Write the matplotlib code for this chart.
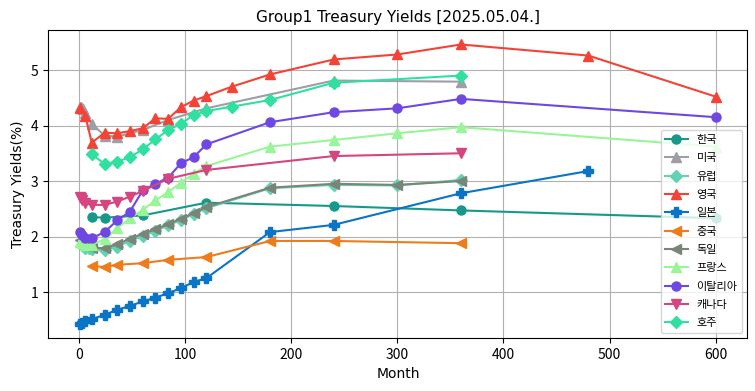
import matplotlib
matplotlib.use("Agg")
import matplotlib.pyplot as plt

plt.rcParams['font.family'] = ['Noto Sans CJK KR', 'DejaVu Sans']

# maturities (months) and yields (%) per country
kr_m = [12, 24, 60, 120, 240, 360, 600]
kr_y = [2.35, 2.34, 2.38, 2.61, 2.55, 2.47, 2.33]

us_m = [1, 2, 3, 4, 6, 12, 24, 36, 60, 84, 120, 240, 360]
us_y = [4.34, 4.33, 4.31, 4.30, 4.22, 4.03, 3.82, 3.80, 3.92, 4.10, 4.31, 4.81, 4.79]

eu_m = [3, 6, 9, 12, 24, 36, 48, 60, 72, 84, 96, 108, 120, 180, 240, 300, 360]
eu_y = [1.84, 1.80, 1.79, 1.77, 1.76, 1.82, 1.92, 2.01, 2.10, 2.20, 2.30, 2.40, 2.51,
        2.87, 2.93, 2.92, 3.02]

uk_m = [1, 6, 12, 24, 36, 48, 60, 72, 84, 96, 108, 120, 144, 180, 240, 300, 360, 480, 600]
uk_y = [4.31, 4.17, 3.69, 3.87, 3.86, 3.90, 3.95, 4.13, 4.12, 4.33, 4.45, 4.53, 4.70,
        4.92, 5.19, 5.28, 5.46, 5.26, 4.52]

jp_m = [1, 3, 6, 12, 24, 36, 48, 60, 72, 84, 96, 108, 120, 180, 240, 360, 480]
jp_y = [0.42, 0.44, 0.47, 0.51, 0.59, 0.68, 0.75, 0.83, 0.90, 0.98, 1.07, 1.18, 1.25,
        2.08, 2.21, 2.78, 3.18]

cn_m = [12, 24, 36, 60, 84, 120, 180, 240, 360]
cn_y = [1.47, 1.45, 1.49, 1.52, 1.58, 1.63, 1.92, 1.92, 1.88]

de_m = [1, 3, 6, 12, 24, 36, 48, 60, 72, 84, 96, 108, 120, 180, 240, 300, 360]
de_y = [1.93, 1.88, 1.83, 1.80, 1.79, 1.86, 1.96, 2.05, 2.13, 2.22, 2.32, 2.42, 2.53,
        2.88, 2.95, 2.93, 3.00]

fr_m = [1, 3, 6, 12, 24, 36, 48, 60, 72, 84, 96, 108, 120, 180, 240, 300, 360, 600]
fr_y = [1.90, 1.88, 1.85, 1.85, 1.95, 2.15, 2.33, 2.48, 2.65, 2.80, 2.97, 3.13, 3.27,
        3.62, 3.74, 3.86, 3.97, 3.62]

it_m = [1, 3, 6, 12, 24, 36, 48, 60, 72, 84, 96, 108, 120, 180, 240, 300, 360, 600]
it_y = [2.08, 2.03, 1.98, 1.97, 2.08, 2.29, 2.45, 2.83, 2.95, 3.06, 3.32, 3.43, 3.66,
        4.06, 4.24, 4.31, 4.48, 4.15]

ca_m = [1, 2, 3, 6, 12, 24, 36, 48, 60, 84, 120, 240, 360]
ca_y = [2.72, 2.70, 2.66, 2.60, 2.57, 2.57, 2.63, 2.72, 2.82, 3.04, 3.20, 3.45, 3.50]

au_m = [12, 24, 36, 48, 60, 72, 84, 96, 108, 120, 144, 180, 240, 360]
au_y = [3.48, 3.31, 3.35, 3.43, 3.57, 3.75, 3.92, 4.03, 4.19, 4.26, 4.34, 4.46, 4.77, 4.90]

series = [
    ("한국", kr_m, kr_y, "#16998b", "o"),
    ("미국", us_m, us_y, "#9e9ea6", "^"),
    ("유럽", eu_m, eu_y, "#62d2b4", "D"),
    ("영국", uk_m, uk_y, "#f44336", "^"),
    ("일본", jp_m, jp_y, "#0a74c6", "P"),
    ("중국", cn_m, cn_y, "#ef7c1b", "<"),
    ("독일", de_m, de_y, "#7a8578", "<"),
    ("프랑스", fr_m, fr_y, "#98f598", "^"),
    ("이탈리아", it_m, it_y, "#6f47e3", "o"),
    ("캐나다", ca_m, ca_y, "#d6457f", "v"),
    ("호주", au_m, au_y, "#2fe0a0", "D"),
]

fig, ax = plt.subplots(figsize=(7.55, 3.91), dpi=100)
for name, m, y, c, mk in series:
    ax.plot(m, y, marker=mk, color=c, label=name, markersize=6.5, linewidth=1.5)

ax.set_title("Group1 Treasury Yields [2025.05.04.]", fontsize=11, family='DejaVu Sans')
ax.set_xlabel("Month", family='DejaVu Sans')
ax.set_ylabel("Treasury Yields(%)", family='DejaVu Sans')
ax.grid(True)
ax.legend(loc="lower right", fontsize=8, labelspacing=0.75)
fig.subplots_adjust(left=0.064, right=0.99, top=0.922, bottom=0.135)
fig.savefig("out.png")
